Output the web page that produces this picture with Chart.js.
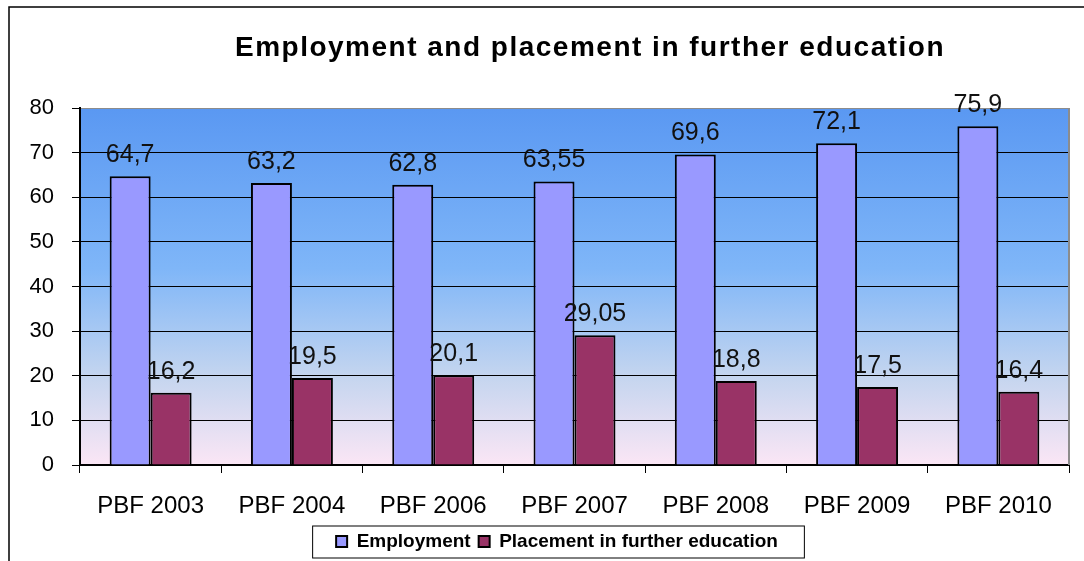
<!DOCTYPE html>
<html>
<head>
<meta charset="utf-8">
<script src="https://cdn.jsdelivr.net/npm/chart.js@4.4.1/dist/chart.umd.min.js"></script>
<style>
  html, body { margin: 0; padding: 0; background: #fff; }
  #chart { display: block; }
</style>
</head>
<body>
<canvas id="chart" width="1084" height="561"></canvas>
<script>
const categories = ['PBF 2003', 'PBF 2004', 'PBF 2006', 'PBF 2007', 'PBF 2008', 'PBF 2009', 'PBF 2010'];
const employment = [64.7, 63.2, 62.8, 63.55, 69.6, 72.1, 75.9];
const placement = [16.2, 19.5, 20.1, 29.05, 18.8, 17.5, 16.4];
const yTicks = [0, 10, 20, 30, 40, 50, 60, 70, 80];
const chartTitle = 'Employment and placement in further education';

Chart.defaults.font.family = '"Liberation Sans", Arial, sans-serif';
Chart.defaults.color = '#000';

const ctx = document.getElementById('chart').getContext('2d');

// blue-to-pink wash behind the bars, plus the grey right edge of the plot
const plotBackground = {
    id: 'plotBackground',
    afterLayout(chart) {
        // y labels hang out past the left padding; widen the label clip
        chart.scales.y.left = 12;
    },
    beforeDraw(chart) {
        const {ctx, chartArea: a} = chart;
        const g = ctx.createLinearGradient(0, a.top, 0, a.bottom);
        g.addColorStop(0, '#5a98f2');
        g.addColorStop(0.45, '#7fb6f8');
        g.addColorStop(0.75, '#c4d5ef');
        g.addColorStop(1, '#fbe6f5');
        ctx.save();
        ctx.fillStyle = g;
        ctx.fillRect(a.left, a.top, a.right - a.left, a.bottom - a.top);
        ctx.restore();
    },
    beforeDatasetsDraw(chart) {
        const {ctx, chartArea: a} = chart;
        ctx.save();
        ctx.strokeStyle = '#8c8c8c';
        ctx.lineWidth = 2;
        ctx.beginPath();
        ctx.moveTo(a.right, a.top);
        ctx.lineTo(a.right, a.bottom);
        ctx.stroke();
        ctx.restore();
    }
};

// value printed above each bar, with a decimal comma
const barValues = {
    id: 'barValues',
    afterDatasetsDraw(chart) {
        const {ctx} = chart;
        ctx.save();
        ctx.font = '25px "Liberation Sans", Arial, sans-serif';
        ctx.fillStyle = '#111';
        ctx.textAlign = 'center';
        ctx.textBaseline = 'alphabetic';
        chart.data.datasets.forEach((ds, i) => {
            chart.getDatasetMeta(i).data.forEach((bar, j) => {
                const txt = String(ds.data[j]).replace('.', ',');
                ctx.fillText(txt, bar.x, bar.y - 14);
            });
        });
        ctx.restore();
    }
};

// outer frame, title and the box round the legend
const frameAndTitle = {
    id: 'frameAndTitle',
    afterDraw(chart) {
        const {ctx} = chart;
        ctx.save();
        ctx.strokeStyle = '#000';
        ctx.lineWidth = 1.5;
        ctx.beginPath();
        ctx.moveTo(9, 561);
        ctx.lineTo(9, 7);
        ctx.lineTo(1084, 7);
        ctx.stroke();

        ctx.font = 'bold 28px "Liberation Sans", Arial, sans-serif';
        ctx.letterSpacing = '1.5px';
        ctx.fillStyle = '#000';
        ctx.textAlign = 'center';
        ctx.textBaseline = 'alphabetic';
        ctx.fillText(chartTitle, 590, 56);
        ctx.letterSpacing = '0px';

        const boxes = chart.legend.legendHitBoxes;
        if (boxes && boxes.length) {
            const first = boxes[0];
            const last = boxes[boxes.length - 1];
            const midY = first.top + first.height / 2;
            const x0 = first.left - 24;
            const x1 = last.left + last.width + 26;
            ctx.lineWidth = 1;
            ctx.strokeRect(x0 + 0.5, midY - 16 + 0.5, x1 - x0, 32);
        }
        ctx.restore();
    }
};

const myChart = new Chart(ctx, {
    type: 'bar',
    data: {
        labels: categories,
        datasets: [{
            label: 'Employment',
            data: employment,
            backgroundColor: '#9999ff',
            borderColor: '#000',
            borderWidth: 2
        }, {
            label: 'Placement in further education',
            data: placement,
            backgroundColor: '#993366',
            borderColor: '#000',
            borderWidth: 2
        }]
    },
    options: {
        responsive: false,
        animation: false,
        datasets: {
            bar: {
                barPercentage: 1,
                categoryPercentage: 0.58
            }
        },
        layout: {
            padding: {top: 108, left: 45, right: 15, bottom: 0}
        },
        plugins: {
            title: {display: false},
            tooltip: {enabled: false},
            legend: {
                position: 'bottom',
                labels: {
                    boxWidth: 11,
                    boxHeight: 11,
                    padding: 8,
                    color: '#000',
                    font: {size: 19, weight: 'bold'}
                }
            }
        },
        scales: {
            x: {
                afterFit: (scale) => { scale.height = 59; },
                grid: {
                    drawOnChartArea: false,
                    drawTicks: true,
                    tickLength: 8,
                    tickColor: '#000'
                },
                border: {color: '#000', width: 2},
                ticks: {
                    color: '#000',
                    padding: 19,
                    font: {size: 24}
                }
            },
            y: {
                min: 0,
                max: 80,
                afterFit: (scale) => { scale.width = 35; },
                afterBuildTicks: (scale) => {
                    scale.ticks = yTicks.map(v => ({value: v}));
                },
                grid: {
                    color: (c) => (c.tick && c.tick.value === 80) ? '#8c8c8c' : '#000',
                    lineWidth: 1,
                    tickLength: 8,
                    tickColor: '#000'
                },
                border: {color: '#000', width: 2},
                ticks: {
                    color: '#000',
                    padding: 18,
                    font: {size: 22}
                }
            }
        }
    },
    plugins: [plotBackground, barValues, frameAndTitle]
});
</script>
</body>
</html>
